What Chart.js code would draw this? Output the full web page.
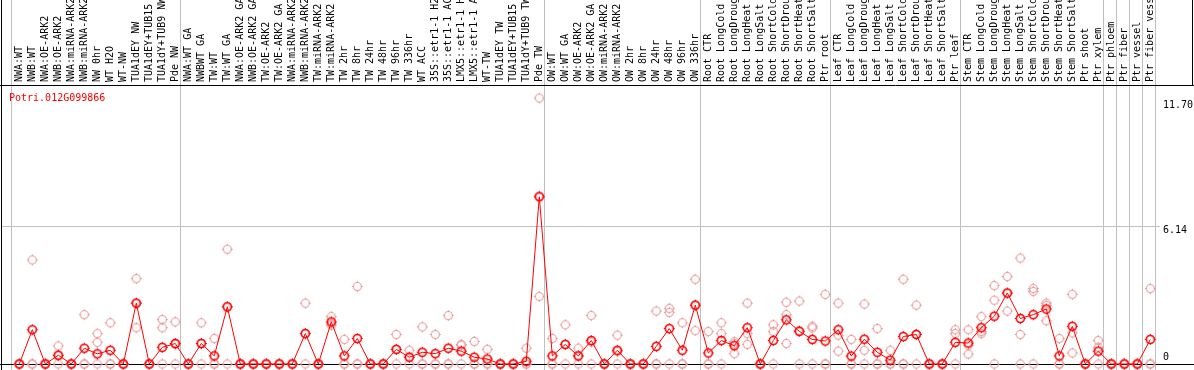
<!DOCTYPE html>
<html>
<head>
<meta charset="utf-8">
<script src="https://cdn.jsdelivr.net/npm/chart.js@4.4.1/dist/chart.umd.min.js"></script>
<style>
  html, body { margin: 0; padding: 0; background: #fff; }
  canvas { display: block; }
</style>
</head>
<body>
<canvas id="chart" width="1194" height="370"></canvas>
<script>
// Sample labels, in plotting order
const categories = [
    'NWA:WT', 'NWB:WT', 'NWA:OE-ARK2', 'NWB:OE-ARK2', 'NWA:miRNA-ARK2', 'NWB:miRNA-ARK2',
    'NW 0hr', 'WT H2O', 'WT-NW', 'TUA1dEY NW', 'TUA1dEY+TUB15', 'TUA1dY+TUB9 NW', 'Pde NW',
    'NWA:WT GA', 'NWBWT GA', 'TW:WT', 'TW:WT GA', 'NWA:OE-ARK2 GA', 'NWB:OE-ARK2 GA',
    'TW:OE-ARK2', 'TW:OE-ARK2 GA', 'NWA:miRNA-ARK2', 'NWB:miRNA-ARK2', 'TW:miRNA-ARK2',
    'TW:miRNA-ARK2', 'TW 2hr', 'TW 8hr', 'TW 24hr', 'TW 48hr', 'TW 96hr', 'TW 336hr',
    'WT ACC', '35S::etr1-1 H2', '35S::etr1-1 AC', 'LMX5::etr1-1 H', 'LMX5::etr1-1 A',
    'WT-TW', 'TUA1dEY TW', 'TUA1dEY+TUB15', 'TUA1dY+TUB9 TW', 'Pde TW',
    'OW:WT', 'OW:WT GA', 'OW:OE-ARK2', 'OW:OE-ARK2 GA', 'OW:miRNA-ARK2', 'OW:miRNA-ARK2',
    'OW 2hr', 'OW 8hr', 'OW 24hr', 'OW 48hr', 'OW 96hr', 'OW 336hr',
    'Root CTR', 'Root LongCold', 'Root LongDroug', 'Root LongHeat', 'Root LongSalt',
    'Root ShortCold', 'Root ShortDrou', 'Root ShortHeat', 'Root ShortSalt', 'Ptr root',
    'Leaf CTR', 'Leaf LongCold', 'Leaf LongDroug', 'Leaf LongHeat', 'Leaf LongSalt',
    'Leaf ShortCold', 'Leaf ShortDrou', 'Leaf ShortHeat', 'Leaf ShortSalt', 'Ptr leaf',
    'Stem CTR', 'Stem LongCold', 'Stem LongDroug', 'Stem LongHeat', 'Stem LongSalt',
    'Stem ShortCold', 'Stem ShortDrou', 'Stem ShortHeat', 'Stem ShortSalt', 'Ptr shoot', 'Ptr xylem',
    'Ptr phloem', 'Ptr fiber', 'Ptr vessel', 'Ptr fiber vess'
];

// number of samples in each experiment block (separated by grey lines)
const groupSizes = [13, 28, 12, 10, 10, 11, 1, 1, 1, 1];

const geneName = 'Potri.012G099866';

// mean expression per sample
const meanValues = [
    0, 1.52, 0, 0.39, 0, 0.70, 0.45, 0.61, 0, 2.70, 0, 0.74, 0.91,
    0, 0.91, 0.36, 2.54, 0, 0, 0, 0, 0, 1.35, 0, 1.87, 0.36, 1.13, 0, 0, 0.65, 0.30,
    0.52, 0.46, 0.70, 0.57, 0.30, 0.22, 0, 0, 0.12, 7.42,
    0.36, 0.87, 0.36, 1.04, 0, 0.61, 0, 0, 0.78, 1.57, 0.61, 2.61,
    0.49, 1.04, 0.81, 1.61, 0, 1.04, 1.96, 1.45, 1.09, 1.02,
    1.52, 0.35, 1.10, 0.52, 0.17, 1.22, 1.31, 0, 0, 0.96,
    0.93, 1.61, 2.12, 3.15, 2.02, 2.19, 2.44, 0.36, 1.67, 0, 0.57,
    0, 0, 0, 1.09
];

// individual replicates
const rep1 = [
    0, 4.62, 0, 0.80, 0, 2.19, 1.35, 1.83, 0, 3.79, 0, 1.97, 1.87,
    0, 1.83, 1.13, 5.09, 0, 0, 0, 0, 0, 2.70, 0, 2.10, 1.09, 3.44, 0, 0, 1.31, 0.61,
    1.65, 1.31, 2.15, 0.87, 1.00, 0.65, 0, 0, 0.70, 11.80,
    1.13, 1.74, 0.70, 2.15, 0, 1.28, 0, 0, 2.35, 2.47, 1.83, 3.76,
    1.44, 1.83, 0.99, 2.70, 0, 1.74, 2.74, 2.79, 1.67, 3.09,
    2.70, 1.09, 2.66, 1.57, 0.61, 3.76, 2.61, 0, 0, 1.52,
    1.52, 2.10, 3.48, 3.88, 4.70, 3.35, 2.70, 1.13, 3.09, 0, 1.04,
    0, 0, 0, 3.35
];
const rep2 = [
    0, 0, 0, 0.37, 0, 0, 0.96, 0, 0, 2.70, 0, 1.61, 0.87,
    0, 0.90, 0, 2.53, 0, 0, 0, 0, 0, 1.35, 0, 1.79, 0, 0, 0, 0, 0.65, 0.30,
    0, 0, 0, 0.83, 0, 0, 0, 0, 0, 7.46,
    0, 0.87, 0.36, 0.97, 0, 0.55, 0, 0, 0, 2.29, 0, 2.61,
    0, 1.35, 0.90, 1.35, 0, 1.44, 2.19, 1.48, 1.60, 0,
    1.28, 0, 0.61, 0, 0, 0, 1.32, 0, 0, 1.35,
    0.83, 1.44, 2.83, 3.15, 1.31, 3.22, 2.60, 0, 1.38, 0, 0.74,
    0, 0, 0, 0
];
const rep3 = [
    0, 0, 0, 0, 0, 0, 0, 0, 0, 1.61, 0, 0, 0,
    0, 0, 0, 0, 0, 0, 0, 0, 0, 0, 0, 1.72, 0, 0, 0, 0, 0, 0,
    0, 0, 0, 0, 0, 0, 0, 0, 0, 3.00,
    0, 0, 0, 0, 0, 0, 0, 0, 0, 0, 0, 1.48,
    0, 0, 0.46, 0.87, 0, 0, 0.91, 0, 0, 0,
    0.57, 0, 0, 0, 0, 0, 0, 0, 0, 0,
    0.44, 1.35, 0, 2.35, 0, 0, 1.92, 0, 0.49, 0, 0,
    0, 0, 0, 0
];

const yTickValues = [0, 6.14, 11.70];
const yMax = 12.38;

// circle marker with four little spokes
function ringMarker(color, width) {
    const c = document.createElement('canvas');
    c.width = 13;
    c.height = 13;
    const g = c.getContext('2d');
    g.strokeStyle = color;
    g.lineWidth = width;
    g.beginPath();
    g.arc(6.5, 6.5, 4, 0, Math.PI * 2);
    g.stroke();
    g.lineWidth = 1;
    g.beginPath();
    g.moveTo(6.5, 1); g.lineTo(6.5, 2.2);
    g.moveTo(6.5, 10.8); g.lineTo(6.5, 12);
    g.moveTo(1, 6.5); g.lineTo(2.2, 6.5);
    g.moveTo(10.8, 6.5); g.lineTo(12, 6.5);
    g.stroke();
    return c;
}

const meanMarker = ringMarker('#ff0000', 1.6);
const repMarker = ringMarker('#e99a9a', 1.1);

const framePlugin = {
    id: 'frame',
    beforeDatasetsDraw(chart) {
        const ctx = chart.ctx;
        const x = chart.scales.x;
        const y = chart.scales.y;
        const step = x.getPixelForValue(1) - x.getPixelForValue(0);
        const W = chart.width, H = chart.height;
        ctx.save();
        // grey block separators
        ctx.strokeStyle = '#c0c0c0';
        ctx.lineWidth = 1;
        let start = 0;
        const bounds = [0];
        groupSizes.forEach(n => { start += n; bounds.push(start); });
        bounds.forEach(b => {
            const px = Math.round(x.getPixelForValue(b) - 0.64 * step) + 0.5;
            ctx.beginPath();
            ctx.moveTo(px, 0);
            ctx.lineTo(px, H);
            ctx.stroke();
        });
        // grey grid line
        const gy = Math.round(y.getPixelForValue(yTickValues[1])) + 0.5;
        ctx.beginPath();
        ctx.moveTo(1, gy);
        ctx.lineTo(1160, gy);
        ctx.stroke();
        // black frame
        ctx.strokeStyle = '#000';
        const top = Math.round(chart.chartArea.top) + 0.5;
        const bot = Math.round(y.getPixelForValue(0)) + 0.5;
        ctx.beginPath();
        ctx.moveTo(1.5, 0); ctx.lineTo(1.5, H);
        ctx.moveTo(0, top); ctx.lineTo(W, top);
        ctx.moveTo(W - 1.5, 0); ctx.lineTo(W - 1.5, top);
        ctx.moveTo(0, bot); ctx.lineTo(W, bot);
        ctx.stroke();
        ctx.restore();
    },
    afterDraw(chart) {
        const ctx = chart.ctx;
        const y = chart.scales.y;
        ctx.save();
        ctx.font = '10px "DejaVu Sans Mono"';
        ctx.textAlign = 'left';
        ctx.textBaseline = 'alphabetic';
        ctx.fillStyle = '#ff0000';
        ctx.fillText(geneName, 9, chart.chartArea.top + 16);
        ctx.fillStyle = '#000';
        ctx.textBaseline = 'middle';
        yTickValues.forEach(v => {
            const py = y.getPixelForValue(v);
            const label = v === 0 ? '0' : v.toFixed(2);
            ctx.fillText(label, 1163, v === 0 ? py - 7 : py + 5);
        });
        ctx.restore();
    }
};

function repSet(values) {
    return {
        data: values,
        showLine: false,
        pointStyle: repMarker,
        pointRadius: 5,
        pointHoverRadius: 5,
        clip: false
    };
}

new Chart(document.getElementById('chart'), {
    type: 'line',
    data: {
        labels: categories,
        datasets: [
            {
                data: meanValues,
                borderColor: '#ff0000',
                borderWidth: 1,
                tension: 0,
                pointStyle: meanMarker,
                pointRadius: 5,
                pointHoverRadius: 5,
                clip: false
            },
            repSet(rep1),
            repSet(rep2),
            repSet(rep3)
        ]
    },
    options: {
        responsive: false,
        animation: false,
        devicePixelRatio: 1,
        layout: { padding: { left: 12.8, right: 37.2, top: 0, bottom: 0.7 } },
        plugins: {
            legend: { display: false },
            tooltip: { enabled: false }
        },
        scales: {
            x: {
                position: 'top',
                offset: true,
                grid: { display: false, drawTicks: false },
                border: { display: false },
                ticks: {
                    autoSkip: false,
                    minRotation: 90,
                    maxRotation: 90,
                    padding: 3,
                    labelOffset: 12,
                    color: '#000',
                    font: { family: 'DejaVu Sans Mono', size: 10 }
                },
                afterFit(scale) { scale.height = 85; }
            },
            y: {
                display: false,
                min: 0,
                max: yMax
            }
        }
    },
    plugins: [framePlugin]
});
</script>
</body>
</html>
